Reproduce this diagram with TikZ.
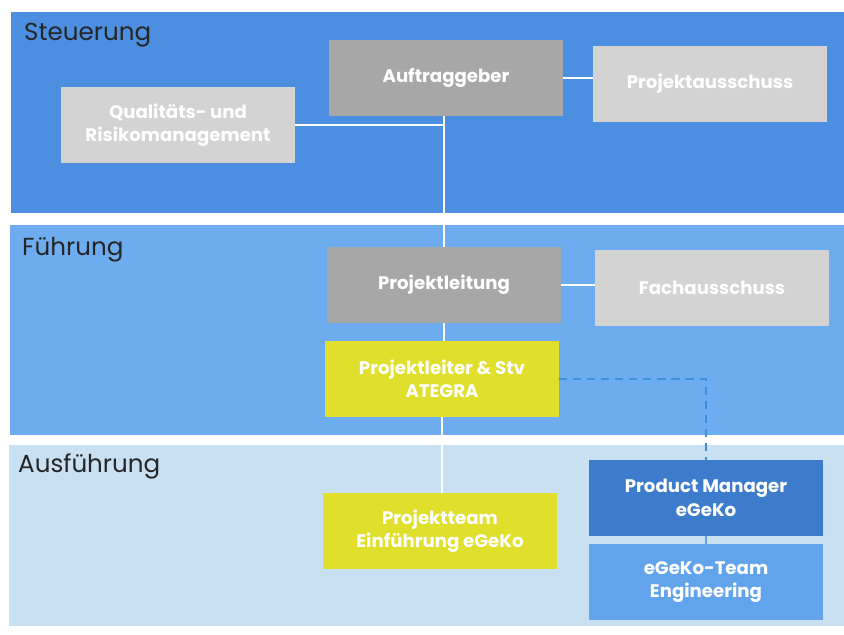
\documentclass[tikz,border=0pt]{standalone}
\usepackage{fontspec}
\setmainfont{Poppins}
\usepackage{tikz}
\usetikzlibrary{positioning}
\definecolor{bandA}{HTML}{4C8FE0}
\definecolor{bandB}{HTML}{6DACEF}
\definecolor{bandC}{HTML}{C9DFF2}
\definecolor{grayA}{HTML}{A7A7A7}
\definecolor{grayB}{HTML}{D3D3D3}
\definecolor{yel}{HTML}{E0E02C}
\definecolor{pmblue}{HTML}{3D7CCC}
\definecolor{engblue}{HTML}{62A4EC}
\definecolor{dashblue}{HTML}{3A8FE0}
\tikzset{
	box/.style={rectangle,minimum width=7cm,minimum height=2.26cm,inner sep=0pt,align=center,
		text=white,font=\fontsize{15.5}{20}\selectfont\bfseries},
	band label/.style={anchor=north west,inner sep=0pt,text=black!85,font=\fontsize{21}{24}\selectfont},
	link/.style={draw=white,line width=1.6pt},
	dashlink/.style={draw=dashblue,line width=1.6pt,dash pattern=on 7pt off 5pt}
}

\begin{document}
\begin{tikzpicture}[x=0.03cm,y=-0.03cm]
	\useasboundingbox (0,0) rectangle (844,634);
	\fill[white] (0,0) rectangle (844,634);
	\fill[bandA] (11,12) rectangle (844,213);
	\fill[bandB] (10,225) rectangle (844,435);
	\fill[bandC] (9,445) rectangle (844,626);
	\node[band label] (l1) at (24,23) {Steuerung};
	\node[band label] (l2) at (22,237) {Führung};
	\node[band label] (l3) at (18,453) {Ausführung};
	\node[box,fill=grayA] (auftrag) at (446,78) {Auftraggeber};
	\node[box,fill=grayB] (ausschuss) at (710,84) {Projektausschuss};
	\node[box,fill=grayB] (quali) at (178,125) {Qualitäts- und\\Risikomanagement};
	\node[box,fill=grayA] (leitung) at (444,285) {Projektleitung};
	\node[box,fill=grayB] (fach) at (712,288) {Fachausschuss};
	\node[box,fill=yel] (ategra) at (442,379) {Projektleiter \& Stv\\ATEGRA};
	\node[box,fill=yel] (team) at (440,531) {Projektteam\\Einführung eGeKo};
	\node[box,fill=pmblue] (pm) at (706,498) {Product Manager\\eGeKo};
	\node[box,fill=engblue] (eng) at (706,582) {eGeKo-Team\\Engineering};
	\draw[link] (auftrag.east) -- (ausschuss.west |- auftrag.east);
	\draw[link] (auftrag.south -| leitung) -- (leitung.north);
	\draw[link] (quali.east) -- (quali.east -| leitung);
	\draw[link] (leitung.east) -- (fach.west |- leitung.east);
	\draw[link] (leitung.south) -- (leitung.south |- ategra.north);
	\draw[link] (ategra.south) -- (ategra.south |- team.north);
	\draw[dashlink] (ategra.east) -| (pm.north);
	\draw[draw=engblue,line width=1.2pt] (pm.south) -- (eng.north);
\end{tikzpicture}
\end{document}
